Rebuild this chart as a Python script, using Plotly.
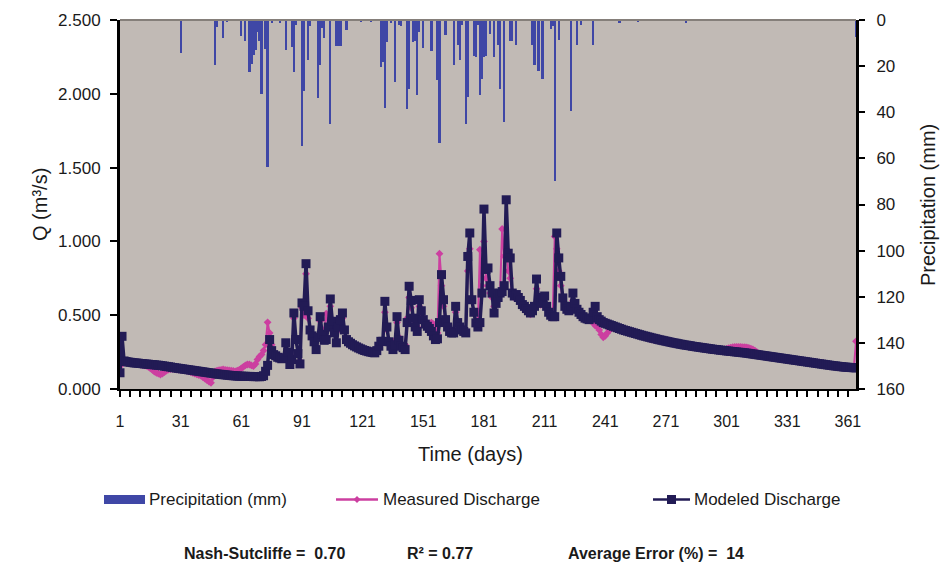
import plotly.graph_objects as go

# ---- data -------------------------------------------------------------
days = list(range(1, 366))

# daily precipitation (mm); days without rain are omitted
rain_day = [31, 48, 49, 52, 54, 61, 63, 65, 66, 67, 68, 69, 70, 71, 73, 74, 76, 80,
            83, 86, 87, 88, 91, 92, 94, 95, 99, 100, 101, 102, 105, 108, 109, 110,
            113, 120, 125, 130, 131, 132, 133, 135, 137, 139, 140, 143, 144, 146,
            147, 148, 149, 151, 155, 158, 159, 162, 166, 168, 169, 170, 172, 173,
            176, 177, 178, 179, 180, 181, 182, 184, 186, 188, 189, 191, 194, 195,
            197, 205, 206, 208, 210, 214, 215, 216, 218, 224, 227, 229, 235, 248,
            257, 281, 365]
rain_mm = [14.2, 19.5, 3.0, 7.6, 1.0, 6.8, 9.0, 22.7, 19.0, 15.3, 13.0, 5.0, 9.0, 32.1,
           12.5, 63.9, 1.2, 1.5, 12.8, 11.6, 22.6, 2.0, 54.6, 30.6, 17.3, 2.6, 34.0,
           19.5, 3.5, 7.8, 45.2, 11.4, 11.3, 11.3, 4.5, 1.0, 1.0, 20.5, 18.0, 38.0,
           9.4, 1.5, 26.7, 2.0, 2.5, 38.7, 30.0, 9.4, 9.3, 32.7, 5.0, 12.3, 13.6,
           26.0, 53.2, 6.7, 19.5, 10.8, 17.5, 2.0, 45.1, 33.5, 15.7, 15.9, 2.0, 32.7,
           25.5, 15.9, 15.5, 6.0, 16.0, 11.0, 30.0, 44.1, 9.3, 9.3, 11.0, 10.8, 19.5,
           22.0, 25.4, 4.0, 2.5, 70.0, 8.5, 39.4, 10.8, 2.0, 11.0, 1.2, 0.8, 1.5, 7.5]

# observed daily discharge (m3/s)
q_measured = [
    0.154, 0.210, 0.190, 0.185, 0.182, 0.179, 0.176, 0.173, 0.170, 0.168,
    0.166, 0.163, 0.160, 0.156, 0.150, 0.140, 0.130, 0.118, 0.110, 0.104,
    0.098, 0.105, 0.115, 0.125, 0.132, 0.135, 0.136, 0.134, 0.133, 0.132,
    0.132, 0.130, 0.128, 0.124, 0.120, 0.115, 0.110, 0.104, 0.100, 0.095,
    0.090, 0.080, 0.070, 0.060, 0.050, 0.042, 0.080, 0.120, 0.125, 0.128,
    0.130, 0.132, 0.130, 0.128, 0.126, 0.124, 0.122, 0.120, 0.125, 0.130,
    0.140, 0.150, 0.160, 0.166, 0.166, 0.160, 0.155, 0.170, 0.200, 0.220,
    0.233, 0.260, 0.300, 0.452, 0.380, 0.300, 0.250, 0.230, 0.220, 0.215,
    0.210, 0.220, 0.300, 0.240, 0.180, 0.220, 0.480, 0.330, 0.250, 0.190,
    0.550, 0.500, 0.780, 0.480, 0.400, 0.370, 0.330, 0.290, 0.360, 0.460,
    0.380, 0.400, 0.510, 0.430, 0.560, 0.460, 0.390, 0.330, 0.400, 0.450,
    0.480, 0.400, 0.340, 0.320, 0.310, 0.300, 0.292, 0.285, 0.278, 0.272,
    0.266, 0.261, 0.257, 0.253, 0.250, 0.247, 0.245, 0.255, 0.280, 0.300,
    0.330, 0.520, 0.400, 0.330, 0.300, 0.290, 0.330, 0.450, 0.350, 0.300,
    0.290, 0.300, 0.480, 0.620, 0.550, 0.470, 0.430, 0.420, 0.560, 0.500,
    0.470, 0.450, 0.440, 0.440, 0.450, 0.440, 0.400, 0.380, 0.917, 0.700,
    0.560, 0.470, 0.430, 0.400, 0.390, 0.400, 0.520, 0.460, 0.430, 0.410,
    0.400, 0.400, 0.800, 0.950, 0.600, 0.520, 0.460, 0.450, 0.944, 0.700,
    1.000, 0.750, 0.700, 0.650, 0.620, 0.560, 0.600, 0.630, 0.660, 1.084,
    0.900, 0.950, 0.800, 0.750, 0.650, 0.620, 0.630, 0.610, 0.590, 0.560,
    0.545, 0.530, 0.520, 0.505, 0.520, 0.550, 0.680, 0.600, 0.570, 0.600,
    0.610, 0.550, 0.520, 0.500, 0.490, 1.034, 0.950, 0.800, 0.700, 0.600,
    0.560, 0.540, 0.530, 0.550, 0.600, 0.560, 0.530, 0.510, 0.500, 0.485,
    0.475, 0.470, 0.465, 0.460, 0.450, 0.430, 0.425, 0.400, 0.370, 0.350,
    0.360, 0.380, 0.400, 0.410, 0.415, 0.412, 0.408, 0.404, 0.400, 0.396,
    0.392, 0.388, 0.384, 0.380, 0.376, 0.372, 0.368, 0.364, 0.360, 0.356,
    0.350, 0.345, 0.340, 0.336, 0.334, 0.333, 0.331, 0.329, 0.327, 0.325,
    0.322, 0.319, 0.316, 0.313, 0.310, 0.308, 0.305, 0.302, 0.300, 0.297,
    0.295, 0.293, 0.290, 0.288, 0.286, 0.284, 0.282, 0.280, 0.278, 0.276,
    0.274, 0.272, 0.270, 0.268, 0.266, 0.265, 0.264, 0.264, 0.265, 0.268,
    0.272, 0.276, 0.280, 0.283, 0.285, 0.286, 0.286, 0.285, 0.284, 0.283,
    0.281, 0.278, 0.274, 0.268, 0.260, 0.250, 0.240, 0.232, 0.228, 0.225,
    0.223, 0.221, 0.219, 0.217, 0.215, 0.213, 0.211, 0.209, 0.207, 0.205,
    0.203, 0.201, 0.199, 0.197, 0.195, 0.193, 0.191, 0.189, 0.187, 0.185,
    0.183, 0.181, 0.179, 0.177, 0.175, 0.173, 0.171, 0.169, 0.167, 0.165,
    0.163, 0.161, 0.159, 0.157, 0.155, 0.153, 0.151, 0.150, 0.148, 0.147,
    0.146, 0.145, 0.144, 0.150, 0.323,
]

# simulated daily discharge (m3/s)
q_modeled = [
    0.110, 0.357, 0.190, 0.186, 0.183, 0.181, 0.179, 0.177, 0.176, 0.175,
    0.173, 0.172, 0.170, 0.169, 0.168, 0.166, 0.165, 0.164, 0.162, 0.161,
    0.159, 0.157, 0.155, 0.153, 0.151, 0.149, 0.146, 0.144, 0.142, 0.140,
    0.138, 0.136, 0.134, 0.132, 0.130, 0.128, 0.126, 0.124, 0.122, 0.120,
    0.118, 0.116, 0.114, 0.112, 0.110, 0.108, 0.106, 0.104, 0.102, 0.100,
    0.099, 0.097, 0.096, 0.094, 0.093, 0.091, 0.090, 0.089, 0.088, 0.087,
    0.087, 0.086, 0.086, 0.085, 0.085, 0.085, 0.084, 0.084, 0.084, 0.083,
    0.085, 0.090, 0.120, 0.160, 0.335, 0.260, 0.233, 0.225, 0.215, 0.210,
    0.205, 0.210, 0.313, 0.250, 0.166, 0.200, 0.515, 0.335, 0.240, 0.170,
    0.583, 0.560, 0.849, 0.530, 0.400, 0.360, 0.320, 0.267, 0.350, 0.490,
    0.370, 0.330, 0.335, 0.420, 0.610, 0.459, 0.380, 0.313, 0.420, 0.470,
    0.515, 0.400, 0.335, 0.320, 0.310, 0.300, 0.292, 0.285, 0.278, 0.272,
    0.266, 0.261, 0.257, 0.253, 0.250, 0.247, 0.245, 0.260, 0.290, 0.323,
    0.323, 0.594, 0.420, 0.320, 0.290, 0.267, 0.300, 0.490, 0.330, 0.290,
    0.280, 0.267, 0.450, 0.696, 0.600, 0.480, 0.420, 0.390, 0.605, 0.530,
    0.470, 0.440, 0.425, 0.410, 0.390, 0.360, 0.335, 0.340, 0.450, 0.775,
    0.605, 0.470, 0.420, 0.390, 0.380, 0.380, 0.560, 0.450, 0.420, 0.400,
    0.390, 0.380, 0.898, 1.057, 0.605, 0.520, 0.448, 0.420, 0.450, 0.650,
    1.219, 0.810, 0.820, 0.700, 0.650, 0.515, 0.580, 0.620, 0.650, 0.660,
    0.700, 1.282, 0.920, 0.888, 0.650, 0.630, 0.640, 0.620, 0.600, 0.572,
    0.560, 0.545, 0.530, 0.515, 0.530, 0.560, 0.745, 0.605, 0.580, 0.620,
    0.630, 0.560, 0.520, 0.500, 0.490, 0.490, 1.057, 0.888, 0.763, 0.617,
    0.560, 0.540, 0.530, 0.560, 0.650, 0.580, 0.540, 0.520, 0.505, 0.490,
    0.480, 0.475, 0.470, 0.480, 0.520, 0.560, 0.490, 0.470, 0.460, 0.450,
    0.445, 0.440, 0.435, 0.430, 0.425, 0.420, 0.415, 0.410, 0.405, 0.400,
    0.396, 0.392, 0.388, 0.384, 0.380, 0.376, 0.372, 0.368, 0.364, 0.360,
    0.357, 0.353, 0.350, 0.346, 0.343, 0.340, 0.336, 0.333, 0.330, 0.327,
    0.324, 0.321, 0.318, 0.315, 0.312, 0.310, 0.307, 0.304, 0.302, 0.299,
    0.297, 0.295, 0.293, 0.290, 0.288, 0.286, 0.284, 0.282, 0.280, 0.278,
    0.276, 0.274, 0.272, 0.270, 0.268, 0.267, 0.265, 0.263, 0.262, 0.260,
    0.258, 0.257, 0.255, 0.254, 0.252, 0.251, 0.249, 0.248, 0.246, 0.245,
    0.243, 0.241, 0.239, 0.237, 0.235, 0.233, 0.231, 0.229, 0.227, 0.225,
    0.223, 0.221, 0.219, 0.217, 0.215, 0.213, 0.211, 0.209, 0.207, 0.205,
    0.203, 0.201, 0.199, 0.197, 0.195, 0.193, 0.191, 0.189, 0.187, 0.185,
    0.183, 0.181, 0.179, 0.177, 0.175, 0.173, 0.171, 0.169, 0.167, 0.165,
    0.163, 0.161, 0.159, 0.157, 0.156, 0.154, 0.152, 0.151, 0.149, 0.148,
    0.147, 0.146, 0.145, 0.144, 0.143,
]

x_ticks = [1, 31, 61, 91, 121, 151, 181, 211, 241, 271, 301, 331, 361]
q_ticks = [0.0, 0.5, 1.0, 1.5, 2.0, 2.5]
p_ticks = [0, 20, 40, 60, 80, 100, 120, 140, 160]

stats = [("Nash-Sutcliffe =  0.70", 182), ("R² = 0.77", 405),
         ("Average Error (%) =  14", 566)]

# ---- style ------------------------------------------------------------
W, H = 946, 568
ML, MR, MT, MB = 120, 90, 20, 179
FONT = "Arial, Liberation Sans, sans-serif"
C_RAIN = "#3F47A6"
C_MEAS = "#CC3FA0"
C_MOD = "#221B55"
BG = "#C1BAB5"


def px(x):
    return (x - ML) / (W - ML - MR)


def py(y):
    return (H - MB - y) / (H - MT - MB)


fig = go.Figure()

fig.add_trace(go.Bar(
    x=rain_day, y=rain_mm, yaxis="y2", width=1.1,
    marker=dict(color=C_RAIN, line=dict(width=0)),
    name="Precipitation (mm)", showlegend=False,
))
fig.add_trace(go.Scatter(
    x=days, y=q_measured, mode="lines+markers",
    line=dict(color=C_MEAS, width=2),
    marker=dict(symbol="diamond", size=6, color=C_MEAS),
    name="Measured Discharge", showlegend=False,
))
fig.add_trace(go.Scatter(
    x=days, y=q_modeled, mode="lines+markers",
    line=dict(color=C_MOD, width=3.5),
    marker=dict(symbol="square", size=9, color=C_MOD),
    name="Modeled Discharge", showlegend=False,
))

axis_font = dict(family=FONT, size=17, color="#1a1a1a")

fig.update_layout(
    width=W, height=H,
    margin=dict(l=ML, r=MR, t=MT, b=MB, pad=0),
    paper_bgcolor="white", plot_bgcolor=BG,
    bargap=0,
    xaxis=dict(
        range=[1, 365], tickvals=x_ticks, ticktext=[str(v) for v in x_ticks],
        ticks="outside", ticklen=6, tickwidth=2, tickcolor="black",
        minor=dict(dtick=5, tick0=1, ticks="outside", ticklen=6, tickwidth=2,
                   tickcolor="black", showgrid=False),
        showline=True, linecolor="black", linewidth=2,
        showgrid=False, zeroline=False,
        tickfont=dict(family=FONT, size=16, color="#1a1a1a"),
        ticklabelstandoff=11,
    ),
    yaxis=dict(
        range=[0, 2.5], tickvals=q_ticks, tickformat=".3f",
        ticks="outside", ticklen=7, tickwidth=2, tickcolor="black",
        showline=True, linecolor="black", linewidth=3,
        showgrid=False, zeroline=False, tickfont=axis_font,
        ticklabelstandoff=6,
    ),
    yaxis2=dict(
        range=[160, 0], tickvals=p_ticks, overlaying="y", side="right",
        ticks="outside", ticklen=6, tickwidth=2, tickcolor="black",
        showline=True, linecolor="black", linewidth=3,
        showgrid=False, zeroline=False, tickfont=axis_font,
        ticklabelstandoff=8,
    ),
)

shapes = [
    # top frame edge of the plotting area
    dict(type="line", xref="paper", yref="paper", x0=0, x1=1, y0=1, y1=1,
         line=dict(color="#857F7A", width=2)),
    # legend keys
    dict(type="rect", xref="paper", yref="paper",
         x0=px(104), x1=px(145), y0=py(504), y1=py(495),
         fillcolor=C_RAIN, line=dict(width=0)),
    dict(type="line", xref="paper", yref="paper",
         x0=px(336), x1=px(378), y0=py(499.5), y1=py(499.5),
         line=dict(color=C_MEAS, width=2.5)),
    dict(type="path", xref="paper", yref="paper",
         path=(f"M {px(357)},{py(496)} L {px(360.5)},{py(499.5)} "
               f"L {px(357)},{py(503)} L {px(353.5)},{py(499.5)} Z"),
         fillcolor=C_MEAS, line=dict(width=0)),
    dict(type="line", xref="paper", yref="paper",
         x0=px(653), x1=px(690), y0=py(499.5), y1=py(499.5),
         line=dict(color=C_MOD, width=2.5)),
    dict(type="rect", xref="paper", yref="paper",
         x0=px(667), x1=px(676), y0=py(504), y1=py(495),
         fillcolor=C_MOD, line=dict(width=0)),
]

ann = []
label_font = dict(family=FONT, size=17, color="#1a1a1a")
for text, x in [("Precipitation (mm)", 147), ("Measured Discharge", 381),
                ("Modeled Discharge", 692)]:
    ann.append(dict(text=text, x=px(x), y=py(499.5), xref="paper", yref="paper",
                    xanchor="left", yanchor="middle", showarrow=False,
                    font=label_font))
for text, x in stats:
    ann.append(dict(text=f"<b>{text}</b>", x=px(x), y=py(553), xref="paper",
                    yref="paper", xanchor="left", yanchor="middle",
                    showarrow=False, font=dict(family=FONT, size=16, color="#1a1a1a")))

title_font = dict(family=FONT, size=20, color="#1a1a1a")
ann.append(dict(text="Q (m³/s)", x=px(40), y=py(205), xref="paper", yref="paper",
                textangle=-90, xanchor="center", yanchor="middle",
                showarrow=False, font=title_font))
ann.append(dict(text="Precipitation (mm)", x=px(928), y=py(205), xref="paper",
                yref="paper", textangle=-90, xanchor="center", yanchor="middle",
                showarrow=False, font=title_font))
ann.append(dict(text="Time (days)", x=px(470), y=py(454), xref="paper",
                yref="paper", xanchor="center", yanchor="middle",
                showarrow=False, font=title_font))

fig.update_layout(shapes=shapes, annotations=ann)

fig.write_html("out.html")
